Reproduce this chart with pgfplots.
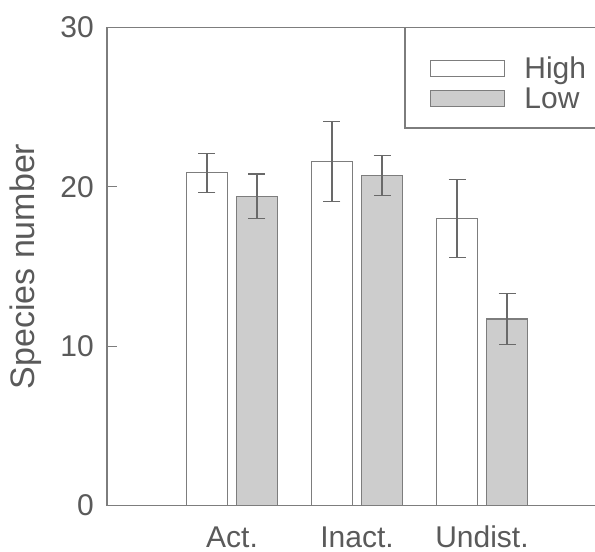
\documentclass[border=0pt]{standalone}
\usepackage{pgfplots}
\pgfplotsset{compat=1.18}
\usepackage{pgfplotstable}
\usepackage{fontspec}
\setmainfont{Liberation Sans}
\definecolor{linegray}{RGB}{125,125,125}
\definecolor{errgray}{RGB}{105,105,105}
\definecolor{fillgray}{RGB}{205,205,205}
\definecolor{textgray}{RGB}{90,90,90}
\pgfplotstableread{
hx hi hierrp hierrm lx lo loerrp loerrm
-0.2 20.9 1.2 1.25 0.2 19.4 1.4 1.4
0.8 21.6 2.5 2.5 1.2 20.7 1.25 1.25
1.8 18.0 2.45 2.45 2.2 11.7 1.6 1.6
}\datatable
\begin{document}
\begin{tikzpicture}
\begin{axis}[
  at={(0pt,0pt)}, anchor=south west,
  scale only axis, width=488pt, height=478pt,
  xmin=-1.0, xmax=2.904, ymin=0, ymax=30,
  axis x line*=bottom, axis y line*=left,
  axis line style={linegray, line width=1.2pt},
  xtick={0,1,2}, xticklabels={Act.,Inact.,Undist.},
  xtick style={draw=none},
  ytick={0,10,20,30},
  ytick style={linegray, line width=1.2pt},
  major tick length=10pt,
  /pgf/number format/assume math mode=true,
  tick label style={font=\fontsize{30}{36}\selectfont, text=textgray},
  yticklabel style={inner sep=0pt, xshift=-13pt},
  xticklabel style={inner sep=0pt, yshift=-20pt, text height=21.5pt, text depth=0pt},
  ylabel={Species number},
  every axis y label/.style={at={(axis description cs:-0.167,0.5)}, rotate=90, anchor=center,
    font=\fontsize{34}{40}\selectfont, text=textgray},
  legend style={draw=none, fill=none, inner sep=0pt, at={(rel axis cs:0.6619,0.9404)}, anchor=north west,
    font=\fontsize{30}{36}\selectfont, text=textgray, row sep=0pt, column sep=19pt,
    nodes={inner sep=0pt, text height=22pt, text depth=8pt}},
  legend cell align=left,
]
\addplot[ybar, bar width=41pt, bar shift=0pt, draw=linegray, fill=white, line width=1.2pt,
  legend image code/.code={\draw[draw=linegray, fill=white, line width=1.2pt] (0pt,-5pt) rectangle (74pt,11pt);},
  error bars/.cd, y dir=both, y explicit,
  error bar style={errgray, line width=1.2pt},
  error mark options={errgray, line width=1.2pt, mark size=8.5pt, rotate=90}]
  table[x=hx, y=hi, y error plus=hierrp, y error minus=hierrm] {\datatable};
\addlegendentry{High}
\addplot[ybar, bar width=41pt, bar shift=0pt, draw=linegray, fill=fillgray, line width=1.2pt,
  legend image code/.code={\draw[draw=linegray, fill=fillgray, line width=1.2pt] (0pt,-5pt) rectangle (74pt,11pt);},
  error bars/.cd, y dir=both, y explicit,
  error bar style={errgray, line width=1.2pt},
  error mark options={errgray, line width=1.2pt, mark size=8.5pt, rotate=90}]
  table[x=lx, y=lo, y error plus=loerrp, y error minus=loerrm] {\datatable};
\addlegendentry{Low}
\draw[linegray, line width=1.2pt] (rel axis cs:0,1) -- (rel axis cs:1,1);
\draw[linegray, line width=1.2pt] (rel axis cs:1,0.7897) -- (rel axis cs:0.6107,0.7897) -- (rel axis cs:0.6107,1);
\end{axis}
\pgfresetboundingbox
\path[use as bounding box] (-107pt,-46.5pt) rectangle (488pt,505.5pt);
\end{tikzpicture}
\end{document}
